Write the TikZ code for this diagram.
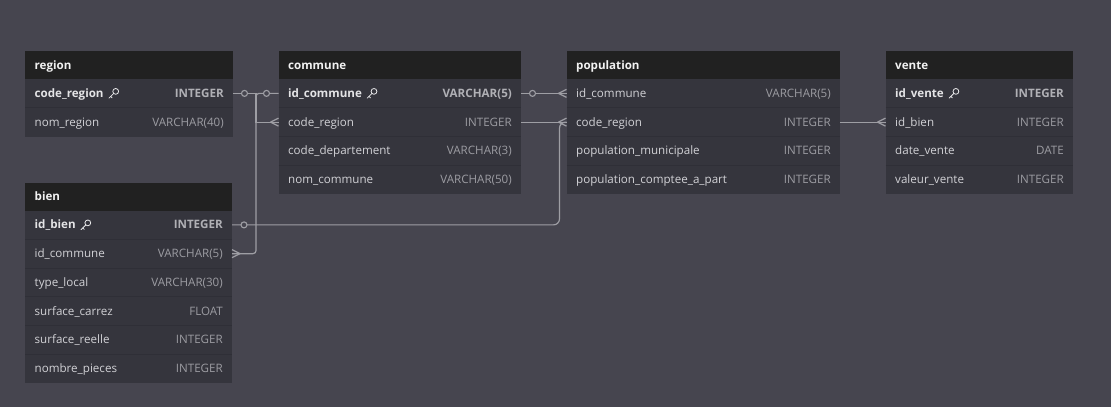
\documentclass[tikz,border=0pt]{standalone}
\usepackage{fontspec}
\setmainfont{Open Sans}
\definecolor{bgc}{HTML}{46454F}
\definecolor{hdrc}{HTML}{212121}
\definecolor{bodyc}{HTML}{35353D}
\definecolor{sepc}{HTML}{2F2F37}
\definecolor{titlec}{HTML}{F2F2F2}
\definecolor{namec}{HTML}{D2D2D6}
\definecolor{knamec}{HTML}{E4E4E6}
\definecolor{typec}{HTML}{9C9CA2}
\definecolor{ktypec}{HTML}{B0B0B5}
\definecolor{connc}{HTML}{9E9EA4}
\newcommand\erfont{\fontsize{11.6}{13}\selectfont}
\tikzset{
  hdr/.style={rectangle, fill=hdrc, inner sep=0pt, outer sep=0pt, minimum height=28pt},
  rowbox/.style={rectangle, fill=bodyc, inner sep=0pt, outer sep=0pt, minimum height=28.77pt},
  ttl/.style={text=titlec, font=\bfseries\erfont, inner sep=0pt, anchor=base west},
  fname/.style={text=namec, font=\erfont, inner sep=0pt, anchor=base west},
  kname/.style={text=knamec, font=\bfseries\erfont, inner sep=0pt, anchor=base west},
  ftype/.style={text=typec, font=\erfont, inner sep=0pt, anchor=base east},
  ktype/.style={text=ktypec, font=\bfseries\erfont, inner sep=0pt, anchor=base east},
  sepl/.style={draw=sepc, line width=0.8pt},
  conn/.style={draw=connc, line width=1.2pt},
  onec/.style={circle, draw=connc, fill=bgc, line width=1.1pt, minimum size=6pt, inner sep=0pt},
  keyicon/.pic={
    \draw[knamec!85, line width=0.8pt] (2.4,-2.0) circle (2.9pt);
    \draw[knamec!85, line width=0.8pt, line cap=round] (0.4,0.0) -- (-4.4,4.8);
    \draw[knamec!85, line width=0.8pt, line cap=round] (-2.6,3.0) -- (-1.1,4.5);
  }
}
\newcommand\ertable[5]{%
  \gdef\erw{#4}%
  \node[hdr, minimum width=#4pt, anchor=north west] (#1) at (#2,#3) {};
  \node[ttl] (#1-title) at ([xshift=9.5pt,yshift=-4pt]#1.west) {#5};
  \gdef\erprev{#1}\gdef\erfirst{1}}
\newcommand\errow[5]{%
  \node[rowbox, minimum width=\erw pt, anchor=north west] (#1) at (\erprev.south west) {};
  \ifnum\erfirst=0 \draw[sepl] (#1.north west) -- (#1.north east);\fi
  \node[#4] (#1-n) at ([xshift=9.5pt,yshift=-4pt]#1.west) {#2};
  \node[#5] (#1-t) at ([xshift=-9pt,yshift=-4pt]#1.east) {#3};
  \gdef\erprev{#1}\gdef\erfirst{0}}
\newcommand\erkey[1]{\pic at ([xshift=9.5pt,yshift=4pt]#1-n.base east) {keyicon};}
\newcommand\crowin[1]{\draw[conn] ([xshift=-8pt]#1) -- ([yshift=4pt]#1) ([xshift=-8pt]#1) -- ([yshift=-4pt]#1);}
\newcommand\crowout[1]{\draw[conn] ([xshift=8pt]#1) -- ([yshift=4pt]#1) ([xshift=8pt]#1) -- ([yshift=-4pt]#1);}
\begin{document}
\begin{tikzpicture}[x=1pt,y=-1pt]
\fill[bgc] (0,0) rectangle (1111,407);
\useasboundingbox (0,0) rectangle (1111,407);

% region
\ertable{region}{25}{51}{208}{region}
\errow{region-r1}{code\_region}{INTEGER}{kname}{ktype}
\erkey{region-r1}
\errow{region-r2}{nom\_region}{VARCHAR(40)}{fname}{ftype}

% commune
\ertable{commune}{278.5}{51}{242.5}{commune}
\errow{commune-r1}{id\_commune}{VARCHAR(5)}{kname}{ktype}
\erkey{commune-r1}
\errow{commune-r2}{code\_region}{INTEGER}{fname}{ftype}
\errow{commune-r3}{code\_departement}{VARCHAR(3)}{fname}{ftype}
\errow{commune-r4}{nom\_commune}{VARCHAR(50)}{fname}{ftype}

% population
\ertable{population}{566.5}{51}{273.5}{population}
\errow{population-r1}{id\_commune}{VARCHAR(5)}{fname}{ftype}
\errow{population-r2}{code\_region}{INTEGER}{fname}{ftype}
\errow{population-r3}{population\_municipale}{INTEGER}{fname}{ftype}
\errow{population-r4}{population\_comptee\_a\_part}{INTEGER}{fname}{ftype}

% vente
\ertable{vente}{885.5}{51}{187.5}{vente}
\errow{vente-r1}{id\_vente}{INTEGER}{kname}{ktype}
\erkey{vente-r1}
\errow{vente-r2}{id\_bien}{INTEGER}{fname}{ftype}
\errow{vente-r3}{date\_vente}{DATE}{fname}{ftype}
\errow{vente-r4}{valeur\_vente}{INTEGER}{fname}{ftype}

% bien
\ertable{bien}{25}{182.5}{207}{bien}
\errow{bien-r1}{id\_bien}{INTEGER}{kname}{ktype}
\erkey{bien-r1}
\errow{bien-r2}{id\_commune}{VARCHAR(5)}{fname}{ftype}
\errow{bien-r3}{type\_local}{VARCHAR(30)}{fname}{ftype}
\errow{bien-r4}{surface\_carrez}{FLOAT}{fname}{ftype}
\errow{bien-r5}{surface\_reelle}{INTEGER}{fname}{ftype}
\errow{bien-r6}{nombre\_pieces}{INTEGER}{fname}{ftype}

% connectors
\coordinate (jx) at (256,0);
\coordinate (jb) at (559.5,0);
\draw[conn] (region-r1.east) -- (jx |- region-r1.east) -- (jx |- commune-r2.west) -- (commune-r2.west);
\draw[conn, rounded corners=3pt] (commune-r1.west) -- (jx |- commune-r1.west) -- (jx |- bien-r2.east) -- (bien-r2.east);
\draw[conn] (commune-r1.east) -- (population-r1.west);
\draw[conn] (commune-r2.east) -- (population-r2.west);
\draw[conn, rounded corners=6pt] (bien-r1.east) -- (jb |- bien-r1.east) -- (jb |- population-r2.west) -- (population-r2.west);
\draw[conn] (population-r2.east) -- (vente-r2.west);

\crowin{commune-r2.west}
\crowout{bien-r2.east}
\crowin{population-r1.west}
\crowin{population-r2.west}
\crowin{vente-r2.west}

\node[onec] (c1) at ([xshift=11.5pt]region-r1.east) {};
\node[onec] (c2) at ([xshift=-12pt]commune-r1.west) {};
\node[onec] (c3) at ([xshift=11.5pt]commune-r1.east) {};
\node[onec] (c4) at ([xshift=12pt]bien-r1.east) {};
\end{tikzpicture}
\end{document}
